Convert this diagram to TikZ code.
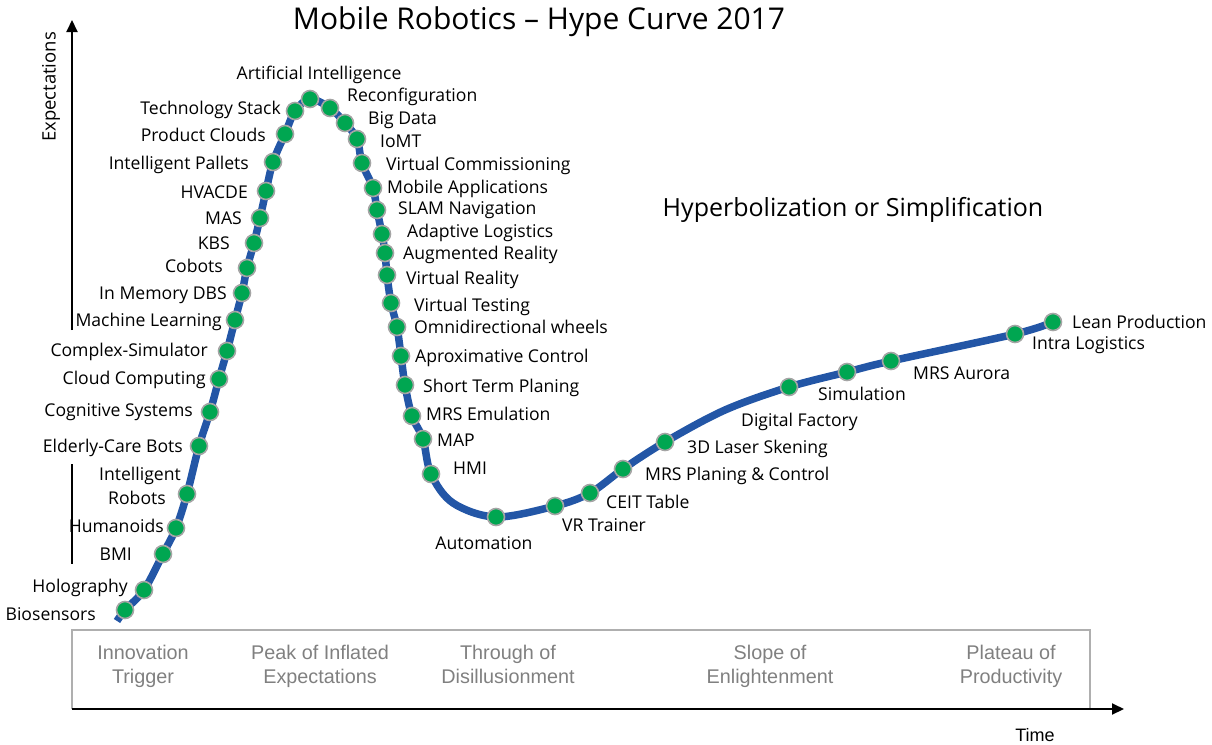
\documentclass[tikz,border=0pt]{standalone}
\usepackage{fontspec}
\setmainfont{Open Sans}
\newfontfamily\arialf{Liberation Sans}
\usetikzlibrary{arrows.meta}
\definecolor{curveblue}{RGB}{35,86,166}
\definecolor{dotgreen}{RGB}{0,166,81}
\definecolor{dotrim}{RGB}{165,165,165}
\definecolor{phasegray}{RGB}{128,128,128}
\definecolor{boxgray}{RGB}{175,175,175}
\begin{document}
\begin{tikzpicture}[x=1pt,y=-1pt,
  dot/.style={circle,fill=dotgreen,draw=dotrim,line width=1.6pt,minimum size=17pt,inner sep=0pt},
  lbl/.style={font=\fontsize{17.6}{20}\selectfont,inner sep=0pt,text height=12.5pt,text depth=0pt},
  ll/.style={lbl,anchor=west},
  rl/.style={lbl,anchor=east},
  cl/.style={lbl,anchor=center},
  phase/.style={font=\arialf\fontsize{19.8}{24}\selectfont,text=phasegray,align=center,inner sep=0pt},
  axisline/.style={line width=2pt,black},
  tip/.style={-{Triangle[length=12pt,width=11pt]}}]
\useasboundingbox (0,0) rectangle (1212,744);

% axes and phase box
\coordinate (va1) at (72,330);
\coordinate (vtop) at (72,20);
\coordinate (va2) at (72,464);
\coordinate (va3) at (72,564);
\coordinate (bl) at (72,709);
\coordinate (btl) at (72,630);
\coordinate (btr) at (1090,630);
\coordinate (bbr) at (1090,709);
\coordinate (htip) at (1124,709);
\draw[boxgray,line width=1.5pt] (bl) -- (btl) -- (btr) -- (bbr);
\draw[axisline,tip] (bl) -- (htip);
\draw[axisline,tip] (va1) -- (vtop);
\draw[axisline] (va2) -- (va3);

\node[phase] (ph1) at (143,667) {Innovation\strut\\Trigger\strut};
\node[phase] (ph2) at (320,667) {Peak of Inflated\strut\\Expectations\strut};
\node[phase] (ph3) at (508,667) {Through of\strut\\Disillusionment\strut};
\node[phase] (ph4) at (770,667) {Slope of\strut\\Enlightenment\strut};
\node[phase] (ph5) at (1011,667) {Plateau of\strut\\Productivity\strut};
\node[font=\arialf\fontsize{18}{20}\selectfont,inner sep=0pt] (time) at (1035,735) {Time};
\node[font=\fontsize{18.5}{20}\selectfont,rotate=90,inner sep=0pt] (exp) at (51,87) {Expectations};

\node[font=\fontsize{30}{34}\selectfont,inner sep=0pt] (title) at (539,22) {Mobile Robotics -- Hype Curve 2017};
\node[font=\fontsize{25}{28}\selectfont,inner sep=0pt] (hyp) at (853,210) {Hyperbolization or Simplification};

% curve points
\coordinate (s0) at (117,621);
\coordinate (p1) at (125,610);
\coordinate (p2) at (144,590);
\coordinate (p3) at (163,554);
\coordinate (p4) at (176,528);
\coordinate (p5) at (187,494);
\coordinate (p6) at (199,446);
\coordinate (p7) at (210,412);
\coordinate (p8) at (219,379);
\coordinate (p9) at (227,351);
\coordinate (p10) at (235,320);
\coordinate (p11) at (242,293);
\coordinate (p12) at (247,268);
\coordinate (p13) at (254,243);
\coordinate (p14) at (260,218);
\coordinate (p15) at (266,191);
\coordinate (p16) at (273,162);
\coordinate (p17) at (285,134);
\coordinate (p18) at (295,111);
\coordinate (p19) at (310,99);
\coordinate (p20) at (330,108);
\coordinate (p21) at (345,123);
\coordinate (p22) at (357,139);
\coordinate (p23) at (362,163);
\coordinate (p24) at (373,188);
\coordinate (p25) at (377,210);
\coordinate (p26) at (382,234);
\coordinate (p27) at (385,253);
\coordinate (p28) at (387,275);
\coordinate (p29) at (391,303);
\coordinate (p30) at (397,327);
\coordinate (p31) at (401,356);
\coordinate (p32) at (405,385);
\coordinate (p33) at (412,416);
\coordinate (p34) at (423,439);
\coordinate (p35) at (431,474);
\coordinate (h1) at (453,503);
\coordinate (p36) at (496,517);
\coordinate (p37) at (555,506);
\coordinate (p38) at (590,493);
\coordinate (p39) at (623,469);
\coordinate (p40) at (665,442);
\coordinate (h2) at (725,410);
\coordinate (p41) at (789,387);
\coordinate (p42) at (847,372);
\coordinate (p43) at (891,361);
\coordinate (p44) at (1015,334);
\coordinate (p45) at (1053,322);

\draw[curveblue,line width=7.5pt] plot[smooth,tension=0.55] coordinates {(s0) (p1) (p2) (p3) (p4) (p5) (p6) (p7) (p8) (p9) (p10) (p11) (p12) (p13) (p14) (p15) (p16) (p17) (p18) (p19) (p20) (p21) (p22) (p23) (p24) (p25) (p26) (p27) (p28) (p29) (p30) (p31) (p32) (p33) (p34) (p35) (h1) (p36) (p37) (p38) (p39) (p40) (h2) (p41) (p42) (p43) (p44) (p45)};

\foreach \i in {1,...,45} {\node[dot] (d\i) at (p\i) {};}

% left labels
\node[cl] (l19) at (319,73) {Artificial Intelligence};
\node[rl] (l18) at (281,108) {Technology Stack};
\node[rl] (l17) at (266,135) {Product Clouds};
\node[rl] (l16) at (249,163) {Intelligent Pallets};
\node[rl] (l15) at (248,192) {HVACDE};
\node[rl] (l14) at (242,218) {MAS};
\node[rl] (l13) at (230,243) {KBS};
\node[rl] (l12) at (223,266) {Cobots};
\node[rl] (l11) at (227,293) {In Memory DBS};
\node[rl] (l10) at (222,320) {Machine Learning};
\node[rl] (l9) at (208,350) {Complex-Simulator};
\node[rl] (l8) at (206,378) {Cloud Computing};
\node[rl] (l7) at (193,410) {Cognitive Systems};
\node[rl] (l6) at (183,446) {Elderly-Care Bots};
\node[cl] (l5a) at (140,474) {Intelligent};
\node[cl] (l5b) at (137,498) {Robots};
\node[rl] (l4) at (164,526) {Humanoids};
\node[rl] (l3) at (132,554) {BMI};
\node[rl] (l2) at (128,586) {Holography};
\node[rl] (l1) at (96,614) {Biosensors};

% right labels
\node[ll] (l20) at (347,95) {Reconfiguration};
\node[ll] (l21) at (368,118) {Big Data};
\node[ll] (l22) at (380,141) {IoMT};
\node[ll] (l23) at (386,164) {Virtual Commissioning};
\node[ll] (l24) at (387,187) {Mobile Applications};
\node[ll] (l25) at (398,208) {SLAM Navigation};
\node[ll] (l26) at (407,231) {Adaptive Logistics};
\node[ll] (l27) at (403,253) {Augmented Reality};
\node[ll] (l28) at (406,278) {Virtual Reality};
\node[ll] (l29) at (414,305) {Virtual Testing};
\node[ll] (l30) at (414,327) {Omnidirectional wheels};
\node[ll] (l31) at (415,356) {Aproximative Control};
\node[ll] (l32) at (423,386) {Short Term Planing};
\node[ll] (l33) at (426,414) {MRS Emulation};
\node[ll] (l34) at (437,440) {MAP};
\node[ll] (l35) at (453,468) {HMI};
\node[cl] (l36) at (484,543) {Automation};
\node[ll] (l37) at (562,525) {VR Trainer};
\node[ll] (l38) at (606,502) {CEIT Table};
\node[ll] (l39) at (645,474) {MRS Planing \& Control};
\node[ll] (l40) at (687,447) {3D Laser Skening};
\node[ll] (l41) at (741,420) {Digital Factory};
\node[ll] (l42) at (818,394) {Simulation};
\node[ll] (l43) at (913,373) {MRS Aurora};
\node[ll] (l44) at (1032,343) {Intra Logistics};
\node[ll] (l45) at (1072,322) {Lean Production};
\end{tikzpicture}
\end{document}
